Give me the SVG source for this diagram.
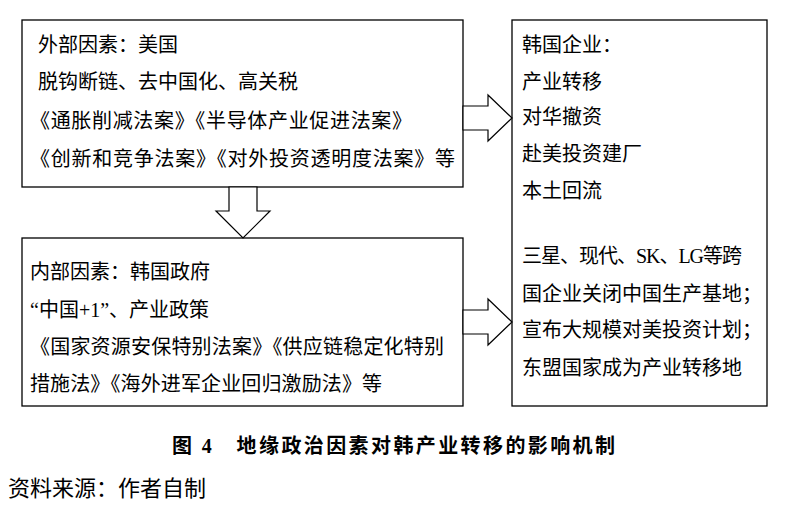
<svg xmlns="http://www.w3.org/2000/svg" width="786" height="514" viewBox="0 0 786 514">
<style>
.b{fill:#fff;stroke:#000;stroke-width:1.3}
.a{fill:#fff;stroke:#000;stroke-width:1.2}
text{font-family:"Liberation Serif","Noto Sans CJK SC",serif;font-size:20px;fill:#000}
.c{font-weight:bold;font-size:20px}
.s{font-size:22px}
</style>
<g id="n1"><rect class="b" x="22" y="20" width="441" height="167"/>
<text x="38" y="52">外部因素：美国</text>
<text x="38" y="89">脱钩断链、去中国化、高关税</text>
<text x="30" y="128" textLength="382">《通胀削减法案》《半导体产业促进法案》</text>
<text x="30" y="166" textLength="425">《创新和竞争法案》《对外投资透明度法案》等</text></g>
<g id="n2"><rect class="b" x="22" y="238" width="441" height="168"/>
<text x="30" y="279">内部因素：韩国政府</text>
<text x="30" y="317">“中国+1”、产业政策</text>
<text x="30" y="354" textLength="414">《国家资源安保特别法案》《供应链稳定化特别</text>
<text x="30" y="391" textLength="352">措施法》《海外进军企业回归激励法》等</text></g>
<g id="n3"><rect class="b" x="512" y="20" width="255" height="386"/>
<text x="522" y="52">韩国企业：</text>
<text x="522" y="89">产业转移</text>
<text x="522" y="124">对华撤资</text>
<text x="522" y="161">赴美投资建厂</text>
<text x="522" y="198">本土回流</text>
<text x="522" y="263" textLength="220">三星、现代、SK、LG等跨</text>
<text x="522" y="301">国企业关闭中国生产基地；</text>
<text x="522" y="337">宣布大规模对美投资计划；</text>
<text x="522" y="375">东盟国家成为产业转移地</text></g>
<g id="connectors">
<path class="a" d="M463,106 H488 V95 L512,118 L488,141 V130 H463 Z"/>
<path class="a" d="M463,310 H488 V299 L512,322 L488,345 V334 H463 Z"/>
<path class="a" d="M229,187 V211 H216 L243,238 L270,211 H257 V187 Z"/>
</g>
<text class="c" x="172" y="453" textLength="443">图 4　地缘政治因素对韩产业转移的影响机制</text>
<text class="s" x="8" y="496">资料来源：作者自制</text>
</svg>
